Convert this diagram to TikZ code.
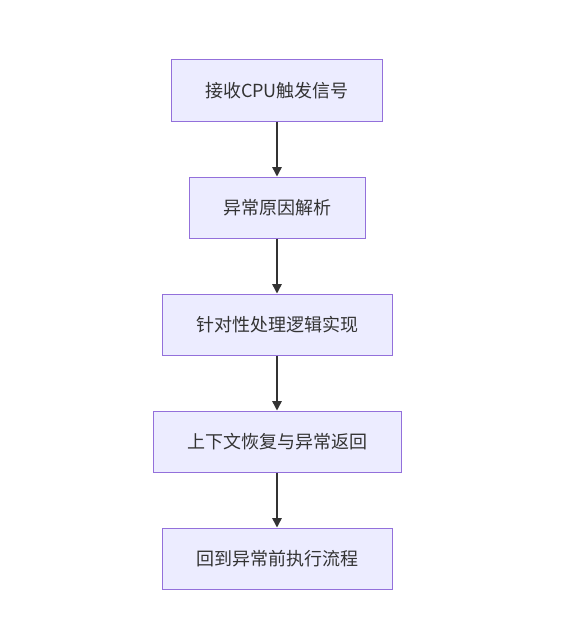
\documentclass[tikz,border=0pt]{standalone}
\usepackage{fontspec}
\setmainfont{Noto Sans CJK SC}
\usetikzlibrary{arrows.meta}
\definecolor{boxfill}{HTML}{ECECFF}
\definecolor{boxline}{HTML}{9370DB}
\definecolor{arrowline}{HTML}{333333}
\tikzset{
    stepbox/.style={draw=boxline, fill=boxfill, line width=0.75pt,
        minimum height=45.75pt, inner xsep=25.5pt, inner ysep=0pt,
        font=\fontsize{13.5pt}{16pt}\selectfont, text=black!80},
    flow/.style={draw=arrowline, line width=1.1pt,
        -{Triangle[length=7pt,width=7pt]}}
}
\begin{document}
\begin{tikzpicture}[x=0.75pt, y=-0.75pt]
            \useasboundingbox (0,0) rectangle (561,642);
            \node[stepbox] (recv) at (277,90.5) {接收CPU触发信号};
            \node[stepbox] (cause) at (277,207.5) {异常原因解析};
            \node[stepbox] (handle) at (277,324.5) {针对性处理逻辑实现};
            \node[stepbox] (restore) at (277,441.5) {上下文恢复与异常返回};
            \node[stepbox] (back) at (277,558.5) {回到异常前执行流程};
            \draw[flow] (recv) -- (cause);
            \draw[flow] (cause) -- (handle);
            \draw[flow] (handle) -- (restore);
            \draw[flow] (restore) -- (back);
        \end{tikzpicture}
\end{document}
